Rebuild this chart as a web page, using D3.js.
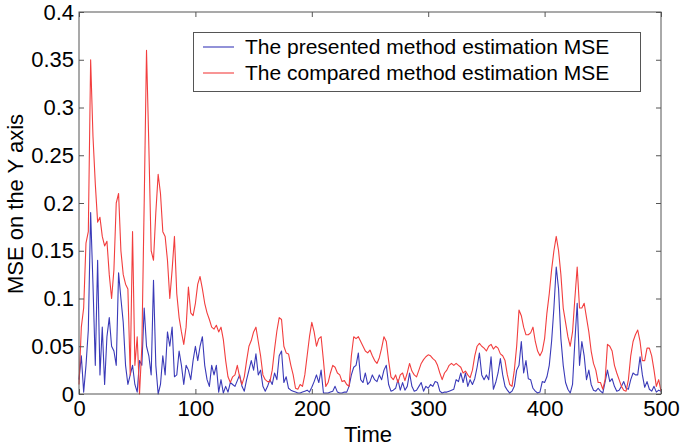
<!DOCTYPE html>
<html>
<head>
<meta charset="utf-8">
<script src="https://cdn.jsdelivr.net/npm/d3@7/dist/d3.min.js"></script>
<style>
  html, body { margin: 0; padding: 0; background: #fff; }
  svg { display: block; font-family: "Liberation Sans", Arial, sans-serif; }
</style>
</head>
<body>
<svg id="chart" width="685" height="446"></svg>
<script>
// ---- data (time step 2, t = 0..500) ----
const timeStart = 0, timeStep = 2;
const presentedMSE = [
  0.015,0.04,0.002,0.03,0.067,0.19,0.115,0.03,0.14,0.02,
  0.07,0.01,0.06,0.08,0.05,0.045,0.03,0.127,0.1,0.075,
  0.03,0.01,0.02,0.03,0.01,0.002,0.035,0.03,0.09,0.05,
  0.04,0.02,0.119,0.03,0.0,0.01,0.04,0.02,0.065,0.05,
  0.07,0.018,0.02,0.045,0.03,0.01,0.03,0.025,0.015,0.035,
  0.05,0.035,0.05,0.06,0.03,0.015,0.008,0.03,0.02,0.03,
  0.002,0.015,0.001,0.008,0.002,0.012,0.01,0.008,0.014,0.02,
  0.008,0.003,0.015,0.025,0.035,0.025,0.042,0.02,0.025,0.008,
  0.003,0.008,0.015,0.01,0.022,0.015,0.04,0.045,0.012,0.018,
  0.006,0.004,0.003,0.002,0.001,0.001,0.002,0.003,0.004,0.002,
  0.007,0.013,0.02,0.012,0.025,0.001,0.001,0.001,0.002,0.003,
  0.008,0.002,0.001,0.001,0.002,0.002,0.008,0.02,0.028,0.03,
  0.043,0.015,0.012,0.022,0.01,0.013,0.02,0.015,0.013,0.02,
  0.015,0.025,0.03,0.01,0.003,0.004,0.006,0.015,0.004,0.012,
  0.004,0.008,0.022,0.008,0.003,0.004,0.008,0.012,0.003,0.008,
  0.006,0.01,0.008,0.013,0.012,0.003,0.001,0.002,0.002,0.003,
  0.004,0.005,0.015,0.013,0.022,0.012,0.022,0.008,0.015,0.01,
  0.016,0.028,0.043,0.02,0.015,0.02,0.015,0.039,0.005,0.012,
  0.022,0.037,0.02,0.008,0.004,0.001,0.003,0.008,0.025,0.03,
  0.055,0.022,0.035,0.016,0.015,0.006,0.003,0.001,0.002,0.013,
  0.012,0.018,0.03,0.055,0.09,0.133,0.11,0.058,0.03,0.012,
  0.005,0.001,0.01,0.055,0.095,0.03,0.055,0.04,0.015,0.025,
  0.01,0.004,0.003,0.006,0.003,0.001,0.013,0.025,0.013,0.016,
  0.008,0.003,0.004,0.008,0.013,0.006,0.005,0.015,0.022,0.02,
  0.02,0.039,0.02,0.007,0.013,0.005,0.003,0.008,0.002,0.004,
  0.003
];
const comparedMSE = [
  0.01,0.07,0.09,0.158,0.17,0.35,0.27,0.22,0.18,0.185,
  0.165,0.155,0.16,0.125,0.1,0.13,0.2,0.21,0.15,0.125,
  0.115,0.11,0.02,0.17,0.03,0.06,0.0,0.05,0.2,0.36,
  0.26,0.15,0.14,0.19,0.23,0.21,0.17,0.165,0.14,0.1,
  0.13,0.165,0.105,0.08,0.065,0.052,0.07,0.112,0.085,0.082,
  0.095,0.115,0.123,0.11,0.095,0.085,0.078,0.07,0.068,0.072,
  0.065,0.07,0.057,0.035,0.018,0.012,0.018,0.02,0.03,0.018,
  0.01,0.018,0.035,0.05,0.056,0.065,0.07,0.055,0.04,0.02,
  0.015,0.013,0.013,0.025,0.047,0.066,0.08,0.078,0.05,0.043,
  0.042,0.03,0.02,0.006,0.005,0.01,0.008,0.02,0.04,0.06,
  0.075,0.065,0.05,0.058,0.06,0.035,0.008,0.012,0.022,0.03,
  0.028,0.022,0.02,0.013,0.014,0.01,0.008,0.04,0.06,0.058,
  0.06,0.055,0.05,0.045,0.043,0.046,0.04,0.035,0.032,0.038,
  0.048,0.06,0.055,0.035,0.018,0.015,0.02,0.012,0.02,0.022,
  0.014,0.022,0.032,0.024,0.02,0.018,0.025,0.032,0.036,0.039,
  0.041,0.04,0.037,0.035,0.03,0.022,0.015,0.022,0.025,0.03,
  0.032,0.03,0.032,0.03,0.028,0.022,0.024,0.02,0.017,0.025,
  0.04,0.05,0.053,0.05,0.048,0.045,0.05,0.052,0.047,0.05,
  0.048,0.042,0.04,0.035,0.02,0.01,0.008,0.025,0.05,0.088,
  0.082,0.07,0.062,0.062,0.064,0.07,0.055,0.045,0.04,0.045,
  0.058,0.085,0.105,0.13,0.15,0.165,0.15,0.125,0.09,0.075,
  0.06,0.05,0.065,0.1,0.133,0.09,0.09,0.095,0.08,0.065,
  0.045,0.032,0.025,0.012,0.012,0.005,0.015,0.052,0.05,0.045,
  0.03,0.022,0.015,0.008,0.004,0.003,0.015,0.04,0.055,0.062,
  0.067,0.055,0.035,0.035,0.048,0.048,0.04,0.025,0.008,0.015,
  0.003
];
const xTicks = [0, 100, 200, 300, 400, 500];
const yTicks = [0, 0.05, 0.1, 0.15, 0.2, 0.25, 0.3, 0.35, 0.4];
const seriesNames = ["The presented method estimation MSE", "The compared method estimation MSE"];
const seriesColors = ["#3a3ab8", "#f23e3e"];
const xLabel = "Time";
const yLabel = "MSE on the Y axis";

// ---- layout ----
const svg = d3.select("#chart");
const L = 79, R = 661, T = 12, B = 394;
const x = d3.scaleLinear().domain([0, 500]).range([L, R]);
const y = d3.scaleLinear().domain([0, 0.4]).range([B, T]);
const fmt = d => String(+d.toFixed(2));
const frameColor = "#555";

// series
const mk = arr => arr.map((v, i) => ({ t: timeStart + i * timeStep, v }));
const line = d3.line().x(d => x(d.t)).y(d => y(d.v));
[presentedMSE, comparedMSE].forEach((arr, k) => {
  svg.append("path")
    .datum(mk(arr))
    .attr("fill", "none")
    .attr("stroke", seriesColors[k])
    .attr("stroke-width", 1.1)
    .attr("stroke-linejoin", "round")
    .attr("d", line);
});

// axes (inward ticks, box)
const styleAxis = g => {
  g.select(".domain").remove();
  g.selectAll(".tick line").attr("stroke", frameColor);
  g.selectAll(".tick text").attr("fill", "#000").style("font-size", "22px")
    .style("font-family", "'Liberation Sans', Arial, sans-serif");
};
svg.append("g").attr("transform", `translate(0,${B})`)
  .call(d3.axisBottom(x).tickValues(xTicks).tickFormat(fmt).tickSize(-5).tickPadding(6))
  .call(styleAxis);
svg.append("g").attr("transform", `translate(0,${T})`)
  .call(d3.axisTop(x).tickValues(xTicks).tickFormat("").tickSize(-5))
  .call(styleAxis);
svg.append("g").attr("transform", `translate(${L},0)`)
  .call(d3.axisLeft(y).tickValues(yTicks).tickFormat(fmt).tickSize(-5).tickPadding(5))
  .call(styleAxis);
svg.append("g").attr("transform", `translate(${R},0)`)
  .call(d3.axisRight(y).tickValues(yTicks).tickFormat("").tickSize(-5))
  .call(styleAxis);
svg.append("rect")
  .attr("x", L).attr("y", T).attr("width", R - L).attr("height", B - T)
  .attr("fill", "none").attr("stroke", frameColor).attr("stroke-width", 1);

// axis labels
svg.append("text").attr("x", 368).attr("y", 442).attr("text-anchor", "middle")
  .style("font-size", "22px").text(xLabel);
svg.append("text").attr("transform", "translate(23,204) rotate(-90)")
  .attr("text-anchor", "middle").style("font-size", "22px").text(yLabel);

// legend
const lg = svg.append("g");
lg.append("rect").attr("x", 193.5).attr("y", 32.5).attr("width", 447).attr("height", 59)
  .attr("fill", "#fff").attr("stroke", frameColor).attr("stroke-width", 1);
seriesNames.forEach((name, k) => {
  const yy = 47 + k * 26;
  lg.append("line").attr("x1", 203).attr("x2", 234).attr("y1", yy).attr("y2", yy)
    .attr("stroke", seriesColors[k]).attr("stroke-width", 1.1);
  lg.append("text").attr("x", 245).attr("y", yy + 7).style("font-size", "21px")
    .attr("fill", "#000").text(name);
});
</script>
</body>
</html>
